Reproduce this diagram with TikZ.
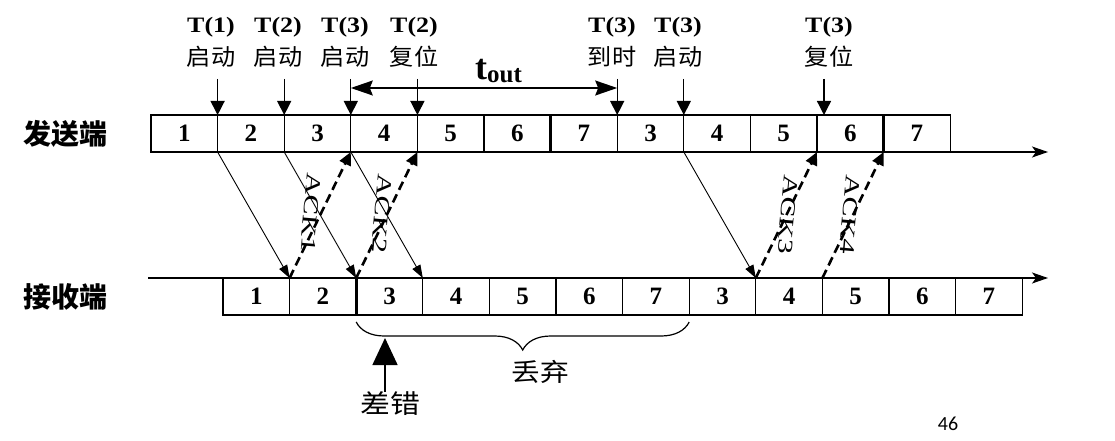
\documentclass[tikz,border=0pt]{standalone}
\usepackage{fontspec}
\setmainfont{Liberation Serif}
\newfontfamily\cjk{Noto Sans CJK SC}
\newfontfamily\calib{Carlito}
\usetikzlibrary{arrows.meta,decorations.pathreplacing}
\begin{document}
\begin{tikzpicture}[x=1pt,y=-1pt,
  box/.style={draw, line width=1.3pt, minimum width=66.6pt, minimum height=37pt, inner sep=0pt, outer sep=0pt, font=\bfseries\fontsize{25}{25}\selectfont},
  timer/.style={line width=1.3pt, -{Triangle[length=14pt,width=14pt]}},
  data/.style={line width=0.9pt, -{Triangle[length=13pt,width=9pt]}},
  ack/.style={line width=2.6pt, dash pattern=on 9pt off 5pt, -{Triangle[length=13pt,width=12pt]}},
  axis/.style={line width=1.3pt, -{Stealth[length=16pt,width=11pt,inset=4pt]}},
  tlab/.style={font=\bfseries\fontsize{22}{22}\selectfont, xscale=1.18, inner sep=0pt},
  clab/.style={font=\cjk\fontsize{23}{23}\selectfont, xscale=1.05, inner sep=0pt},
  side/.style={font=\cjk\bfseries\fontsize{28}{28}\selectfont, inner sep=0pt},
  acklab/.style={font=\fontsize{21}{21}\selectfont, rotate=-95, xscale=1.45, inner sep=0pt}
]
\useasboundingbox (0,0) rectangle (1115,441);

% sender and receiver frames
\foreach \t [count=\i] in {1,2,3,4,5,6,7,3,4,5,6,7} {
  \node[box] (s\i) at ({151+66.6*(\i-0.5)},133.5) {\t};
  \node[box] (r\i) at ({223+66.6*(\i-0.5)},296.5) {\t};
}
% heavier dividers
\draw[line width=2.6pt] (s6.north east) -- (s6.south east);
\draw[line width=2.6pt] (s11.north east) -- (s11.south east);
\draw[line width=2.6pt] (r2.north east) -- (r2.south east);

% axes
\coordinate (sEnd) at (1048,152);
\coordinate (rStart) at (148,278);
\coordinate (rEnd) at (1048,278);
\draw[axis] (s12.south east) -- (sEnd);
\draw[axis] (rStart) -- (rEnd);

% side labels
\node[side] (send) at (65,134) {发送端};
\node[side] (recv) at (65,297) {接收端};

% timer arrows
\foreach \n in {1,2,3,4,7,8} {
  \draw[timer] ([yshift=36pt]s\n.north east) -- (s\n.north east);
}
\coordinate (t10) at ([xshift=7pt]s10.north east);
\draw[timer] ([yshift=36pt]t10) -- (t10);

% timer labels
\node[tlab] (ta) at (211,27) {T(1)};
\node[clab] (ca) at (211,57) {启动};
\node[tlab] (tb) at (278,27) {T(2)};
\node[clab] (cb) at (278,57) {启动};
\node[tlab] (tc) at (345,27) {T(3)};
\node[clab] (cc) at (345,57) {启动};
\node[tlab] (td) at (414,27) {T(2)};
\node[clab] (cd) at (414,57) {复位};
\node[tlab] (te) at (612,27) {T(3)};
\node[clab] (ce) at (612,57) {到时};
\node[tlab] (tf) at (678,27) {T(3)};
\node[clab] (cf) at (678,57) {启动};
\node[tlab] (tg) at (829,27) {T(3)};
\node[clab] (cg) at (829,57) {复位};

% t_out
\coordinate (toL) at ([yshift=27pt]s3.north east);
\coordinate (toR) at ([yshift=27pt]s7.north east);
\draw[line width=1.3pt, {Stealth[length=22pt,width=15pt,inset=3pt]}-{Stealth[length=22pt,width=15pt,inset=3pt]}] (toL) -- (toR);
\node[anchor=base west, inner sep=0pt] (tout) at (475,80) {\bfseries\fontsize{36}{36}\selectfont t\raisebox{-3pt}{\fontsize{25}{25}\selectfont out}};

% data frames
\draw[data] (s1.south east) -- (r1.north east);
\draw[data] (s2.south east) -- (r2.north east);
\draw[data] (s3.south east) -- (r3.north east);
\draw[data] (s8.south east) -- (r8.north east);

% acks
\draw[ack] (r1.north east) -- (s3.south east);
\draw[ack] (r2.north east) -- (s4.south east);
\draw[ack] (r8.north east) -- (s10.south east);
\draw[ack] (r9.north east) -- (s11.south east);
\node[acklab] (a1) at (311,213) {ACK1};
\node[acklab] (a2) at (382,214) {ACK2};
\node[acklab] (a3) at (788,215) {ACK3};
\node[acklab] (a4) at (850,215) {ACK4};

% discard brace
\draw[line width=1.2pt, decorate, decoration={brace, amplitude=28pt, mirror}] ([yshift=-7pt]r3.south west) -- ([yshift=-7pt]r7.south east);
\node[font=\cjk\fontsize{25}{25}\selectfont, xscale=1.15, inner sep=0pt] (drop) at (540,372) {丢弃};

% error
\node[font=\cjk\fontsize{26}{26}\selectfont, xscale=1.15, inner sep=0pt] (err) at (390,404) {差错};
\coordinate (errTip) at (385,338);
\draw[line width=1.5pt, -{Triangle[length=27pt,width=25pt]}] (err.north -| errTip) -- (errTip);

% page number
\node[font=\calib\fontsize{20}{20}\selectfont, inner sep=0pt] (pg) at (948,424) {46};
\end{tikzpicture}
\end{document}
